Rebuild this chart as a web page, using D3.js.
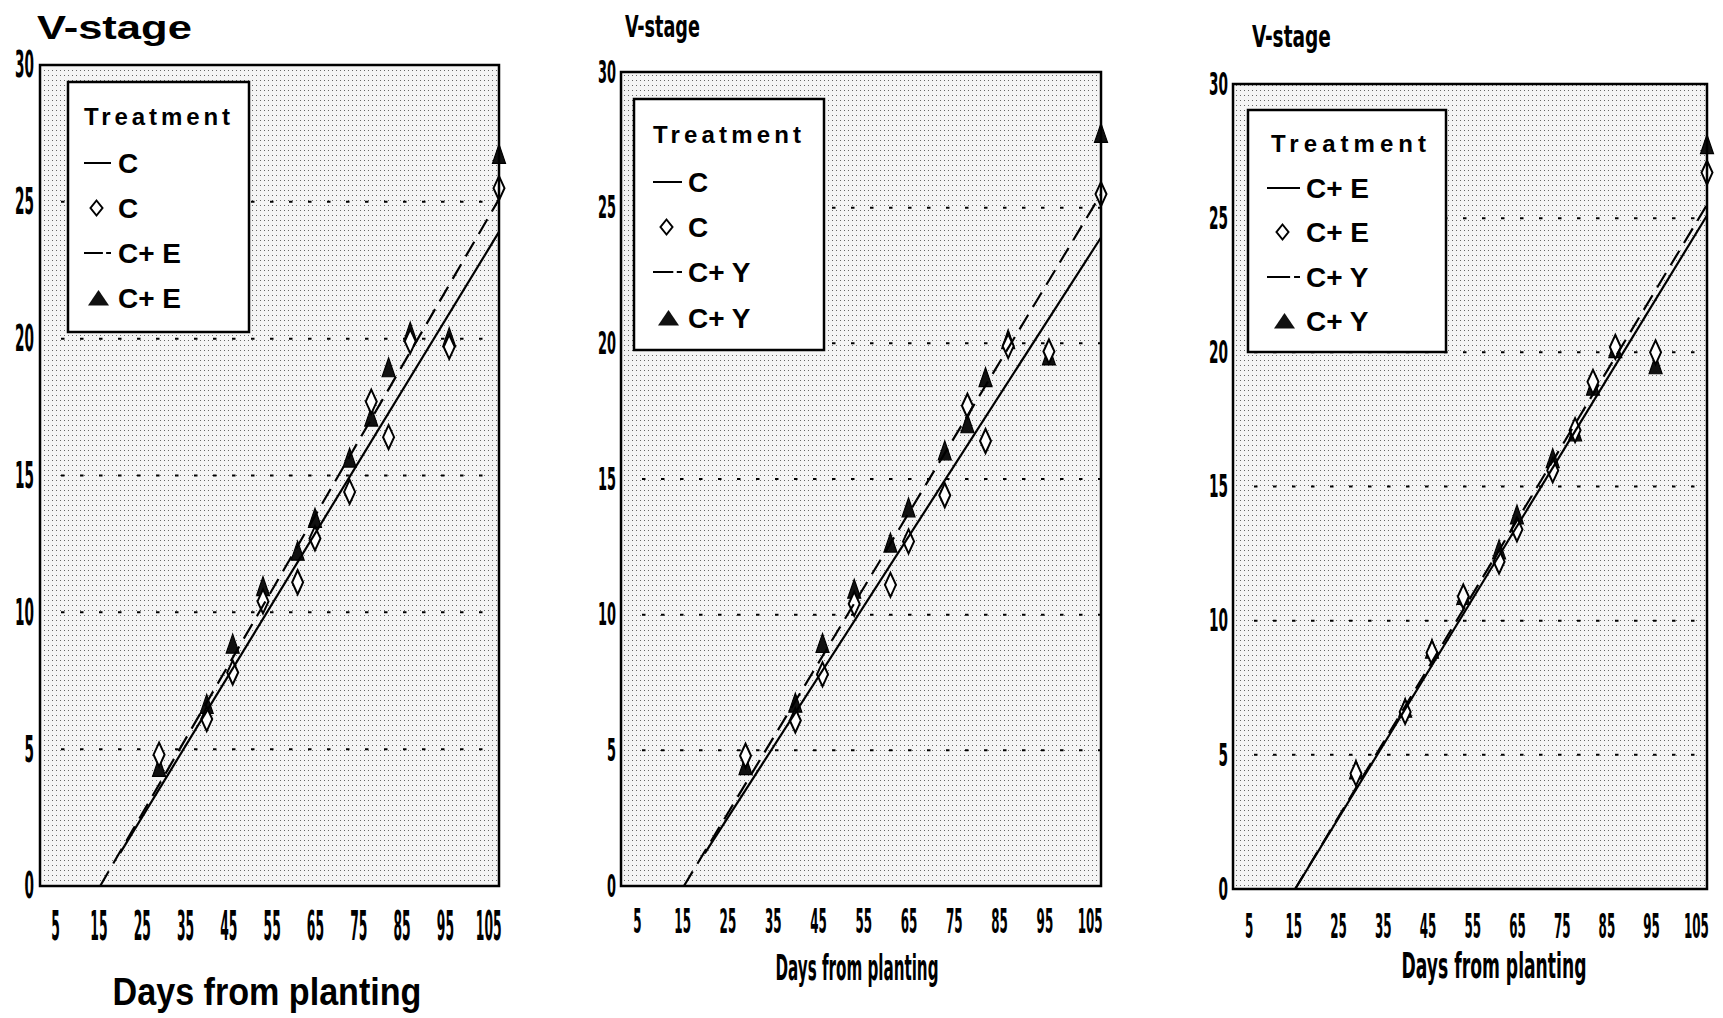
<!DOCTYPE html>
<html>
<head>
<meta charset="utf-8">
<script src="https://cdn.jsdelivr.net/npm/d3@7"></script>
<style>
  body { margin: 0; background: #fff; }
  svg { display: block; }
</style>
</head>
<body>
<script>

/* ---------------------------- */
/* DATA                         */
/* ---------------------------- */

// Sampling dates (days from planting)
const days = [29, 40, 46, 53, 61, 65, 73, 78, 82, 87, 96, 107.5];

// Mean V-stage per treatment
const stageC  = [4.8, 6.1, 7.8, 10.4, 11.1, 12.7, 14.4, 17.7, 16.4, 19.9, 19.7, 25.5];
const stageCE = [4.3, 6.6, 8.8, 10.9, 12.2, 13.4, 15.6, 17.1, 18.9, 20.2, 20.0, 26.7];
const stageCY = [4.4, 6.7, 8.9, 10.9, 12.6, 13.9, 16.0, 17.0, 18.7, 20.1, 19.5, 27.7];

// Fitted regression lines (end points)
const fitDaysC  = [20, 107.5],   fitC  = [1.2, 23.9];
const fitDaysCE = [15.4, 107.5], fitCE = [0, 25.1];
const fitDaysCY = [15.4, 107.5], fitCY = [0, 25.5];

const xTicks = [5, 15, 25, 35, 45, 55, 65, 75, 85, 95, 105];
const yTicks = [0, 5, 10, 15, 20, 25, 30];
const gridValues = [5, 10, 15, 20, 25];

const xDomain = [1.5, 107.5];
const yDomain = [0, 30];

const series = {C: stageC, CE: stageCE, CY: stageCY};
const fits = {
    C:  {d: fitDaysC,  v: fitC},
    CE: {d: fitDaysCE, v: fitCE},
    CY: {d: fitDaysCY, v: fitCY}
};

/* ---------------------------- */
/* LAYOUT                       */
/* ---------------------------- */

const W = 1723, H = 1018;
const narrow = "'Liberation Sans Narrow', 'Arial Narrow', 'DejaVu Sans Condensed', 'Liberation Sans', sans-serif";
const wide = "'Liberation Sans', Arial, Helvetica, sans-serif";

// one entry per panel
let panels = [
    {
        box: {left: 40, right: 499, top: 65, bottom: 886},
        solid: "C", dashed: "CE", diamonds: "C", triangles: "CE",
        names: ["C", "C", "C+ E", "C+ E"],
        title: {x: 37, y: 39, size: 33, len: 155, font: wide},
        xlab: {x: 267, y: 1005, size: 39, len: 309, font: wide},
        xTickFont: 40, xTickPad: 26, xTickChar: 8.6,
        yTickFont: 37, yTickPad: 6, yTickChar: 9.5,
        legend: {left: 68, right: 249, top: 82, bottom: 332, headX: 84, headY: 125, headLen: 146,
                 rows: [163, 208, 253, 298], symX: 84, symW: 27, textX: 118}
    },
    {
        box: {left: 621, right: 1101, top: 72, bottom: 886},
        solid: "C", dashed: "CY", diamonds: "C", triangles: "CY",
        names: ["C", "C", "C+ Y", "C+ Y"],
        title: {x: 625, y: 37, size: 30, len: 75, font: narrow},
        xlab: {x: 857, y: 980, size: 35, len: 163, font: narrow},
        xTickFont: 34, xTickPad: 23, xTickChar: 8.3,
        yTickFont: 32, yTickPad: 5, yTickChar: 9,
        legend: {left: 634, right: 824, top: 99, bottom: 350, headX: 653, headY: 143, headLen: 148,
                 rows: [182, 227, 272, 318], symX: 653, symW: 29, textX: 688}
    },
    {
        box: {left: 1233, right: 1707, top: 84, bottom: 889},
        solid: "CE", dashed: "CY", diamonds: "CE", triangles: "CY",
        names: ["C+ E", "C+ E", "C+ Y", "C+ Y"],
        title: {x: 1252, y: 47, size: 30, len: 79, font: narrow},
        xlab: {x: 1494, y: 978, size: 35, len: 185, font: narrow},
        xTickFont: 34, xTickPad: 25, xTickChar: 8.3,
        yTickFont: 32, yTickPad: 5, yTickChar: 9.5,
        legend: {left: 1248, right: 1446, top: 110, bottom: 352, headX: 1271, headY: 152, headLen: 155,
                 rows: [188, 232, 277, 321], symX: 1267, symW: 33, textX: 1306}
    }
];

// marker outlines (data markers are tall and narrow, as in the scan)
const diamondPath = "M0,-12L5.5,0L0,12L-5.5,0Z";
const trianglePath = "M0,-11L6.5,8L-6.5,8Z";

/* ---------------------------- */
/* CANVAS                       */
/* ---------------------------- */

let svg = d3.select("body")
    .append("svg")
        .attr("width", W)
        .attr("height", H);

// stippled background of the plot area
let defs = svg.append("defs");
let pat = defs.append("pattern")
    .attr("id", "stipple")
    .attr("patternUnits", "userSpaceOnUse")
    .attr("width", 4)
    .attr("height", 5);
pat.append("rect").attr("width", 4).attr("height", 5).attr("fill", "#f5f5f5");
pat.append("rect").attr("width", 1).attr("height", 1).attr("fill", "#666");

panels.forEach(drawPanel);

/* ---------------------------- */
/* FUNCTIONS                    */
/* ---------------------------- */

// Squeeze a text horizontally to a given width (the scan uses condensed type)
function squeeze(sel, widthFn) {
    sel.each(function(d, i) {
        let t = d3.select(this);
        let natural = this.getComputedTextLength();
        let target = typeof widthFn === "function" ? widthFn(d, i) : widthFn;
        let s = target / natural;
        let x0 = +t.attr("x") || 0;
        let y0 = +t.attr("y") || 0;
        t.attr("x", 0)
         .attr("y", 0)
         .attr("transform", "translate(" + x0 + "," + y0 + ") scale(" + s + ",1)");
    });
}

function drawPanel(p) {
    let b = p.box;
    let x = d3.scaleLinear().domain(xDomain).range([b.left, b.right]);
    let y = d3.scaleLinear().domain(yDomain).range([b.bottom, b.top]);
    let g = svg.append("g");

    // plot area
    g.append("rect")
        .attr("x", b.left)
        .attr("y", b.top)
        .attr("width", b.right - b.left)
        .attr("height", b.bottom - b.top)
        .attr("fill", "url(#stipple)");

    // dotted reference lines
    g.selectAll("line.grid")
        .data(gridValues)
        .enter()
        .append("line")
            .attr("class", "grid")
            .attr("x1", b.left + 21)
            .attr("x2", b.right)
            .attr("y1", (d) => y(d))
            .attr("y2", (d) => y(d))
            .attr("stroke", "#000")
            .attr("stroke-width", 2)
            .attr("stroke-dasharray", "3.5,15.5");

    // triangles first, diamonds drawn over them
    let tri = series[p.triangles];
    g.selectAll("path.tri")
        .data(days.map((d, i) => ({day: d, v: tri[i]})))
        .enter()
        .append("path")
            .attr("class", "tri")
            .attr("d", trianglePath)
            .attr("transform", (d) => "translate(" + x(d.day) + "," + y(d.v) + ")")
            .attr("fill", "#111")
            .attr("stroke", "#000")
            .attr("stroke-width", 1.2);

    let dia = series[p.diamonds];
    g.selectAll("path.dia")
        .data(days.map((d, i) => ({day: d, v: dia[i]})))
        .enter()
        .append("path")
            .attr("class", "dia")
            .attr("d", diamondPath)
            .attr("transform", (d) => "translate(" + x(d.day) + "," + y(d.v) + ")")
            .attr("fill", "#fff")
            .attr("stroke", "#000")
            .attr("stroke-width", 2);

    // regression lines
    let line = d3.line().x((d) => x(d[0])).y((d) => y(d[1]));
    let fs = fits[p.solid], fd = fits[p.dashed];
    g.append("path")
        .attr("d", line(d3.zip(fs.d, fs.v)))
        .attr("fill", "none")
        .attr("stroke", "#000")
        .attr("stroke-width", 2.2);
    g.append("path")
        .attr("d", line(d3.zip(fd.d, fd.v)))
        .attr("fill", "none")
        .attr("stroke", "#000")
        .attr("stroke-width", 2.2)
        .attr("stroke-dasharray", "17,9");

    // frame
    g.append("rect")
        .attr("x", b.left)
        .attr("y", b.top)
        .attr("width", b.right - b.left)
        .attr("height", b.bottom - b.top)
        .attr("fill", "none")
        .attr("stroke", "#000")
        .attr("stroke-width", 2.5);

    // axes
    let xAxis = g.append("g")
        .attr("transform", "translate(0," + b.bottom + ")")
        .call(d3.axisBottom(x).tickValues(xTicks).tickSize(0).tickPadding(p.xTickPad));
    xAxis.select(".domain").remove();
    xAxis.selectAll("text")
        .attr("font-family", narrow)
        .attr("font-weight", "bold")
        .attr("font-size", p.xTickFont)
        .attr("fill", "#000")
        .call(squeeze, (d) => String(d).length * p.xTickChar);

    let yAxis = g.append("g")
        .attr("transform", "translate(" + b.left + ",0)")
        .call(d3.axisLeft(y).tickValues(yTicks).tickSize(0).tickPadding(p.yTickPad));
    yAxis.select(".domain").remove();
    yAxis.selectAll("text")
        .attr("font-family", narrow)
        .attr("font-weight", "bold")
        .attr("font-size", p.yTickFont)
        .attr("fill", "#000")
        .call(squeeze, (d) => String(d).length * p.yTickChar);

    // titles
    g.append("text")
        .attr("x", p.title.x)
        .attr("y", p.title.y)
        .attr("font-family", p.title.font)
        .attr("font-weight", "bold")
        .attr("font-size", p.title.size)
        .text("V-stage")
        .call(squeeze, p.title.len);

    g.append("text")
        .attr("x", p.xlab.x)
        .attr("y", p.xlab.y)
        .attr("text-anchor", "middle")
        .attr("font-family", p.xlab.font)
        .attr("font-weight", "bold")
        .attr("font-size", p.xlab.size)
        .text("Days from planting")
        .call(squeeze, p.xlab.len);

    drawLegend(g, p);
}

function drawLegend(g, p) {
    let L = p.legend;
    g.append("rect")
        .attr("x", L.left)
        .attr("y", L.top)
        .attr("width", L.right - L.left)
        .attr("height", L.bottom - L.top)
        .attr("fill", "#fff")
        .attr("stroke", "#000")
        .attr("stroke-width", 2.5);

    g.append("text")
        .attr("x", L.headX)
        .attr("y", L.headY)
        .attr("font-family", wide)
        .attr("font-weight", "bold")
        .attr("font-size", 24)
        .attr("textLength", L.headLen)
        .attr("lengthAdjust", "spacing")
        .text("Treatment");

    let cx = L.symX + L.symW / 2 + 1;
    // solid line
    g.append("line")
        .attr("x1", L.symX).attr("x2", L.symX + L.symW)
        .attr("y1", L.rows[0]).attr("y2", L.rows[0])
        .attr("stroke", "#000").attr("stroke-width", 2);
    // diamond
    g.append("path")
        .attr("d", "M0,-7.5L6,0L0,7.5L-6,0Z")
        .attr("transform", "translate(" + (cx - 2) + "," + L.rows[1] + ")")
        .attr("fill", "#fff").attr("stroke", "#000").attr("stroke-width", 2);
    // long-short dash
    g.append("line")
        .attr("x1", L.symX).attr("x2", L.symX + L.symW)
        .attr("y1", L.rows[2]).attr("y2", L.rows[2])
        .attr("stroke", "#000").attr("stroke-width", 2)
        .attr("stroke-dasharray", (L.symW * 0.7) + "," + (L.symW * 0.12) + "," + (L.symW * 0.18));
    // triangle
    g.append("path")
        .attr("d", "M0,-8L10.5,7.5L-10.5,7.5Z")
        .attr("transform", "translate(" + cx + "," + L.rows[3] + ")")
        .attr("fill", "#111");

    g.selectAll("text.entry")
        .data(p.names)
        .enter()
        .append("text")
            .attr("class", "entry")
            .attr("x", L.textX)
            .attr("y", (d, i) => L.rows[i] + 10)
            .attr("font-family", wide)
            .attr("font-weight", "bold")
            .attr("font-size", 28)
            .text((d) => d);
}

</script>
</body>
</html>
